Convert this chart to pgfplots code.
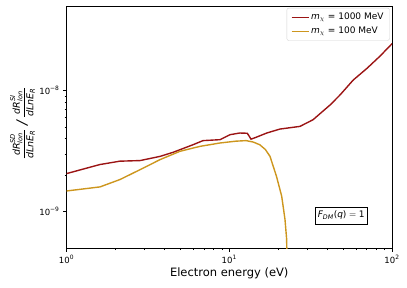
\documentclass[border=0pt]{standalone}
\usepackage{amsmath}
\usepackage{fontspec}
\setmainfont{DejaVu Sans}
\usepackage{pgfplots}
\pgfplotsset{compat=1.18}
\definecolor{cred}{RGB}{155,20,20}
\definecolor{cgold}{RGB}{205,150,30}
\begin{document}
\begin{tikzpicture}
\begin{axis}[
  scale only axis,
  width=325.5bp, height=242bp,
  xmode=log, ymode=log,
  xmin=1, xmax=100, ymin=5e-10, ymax=5e-8,
  axis line style={black, line width=0.8pt},
  tick align=outside, tick pos=left,
  major tick length=3.5bp, minor tick length=2bp,
  every tick/.style={black, line width=0.6pt},
  xtick={1,10,100},
  xticklabels={10\textsuperscript{0},10\textsuperscript{1},10\textsuperscript{2}},
  ytick={1e-9,1e-8},
  yticklabels={10\textsuperscript{−9},10\textsuperscript{−8}},
  ticklabel style={font=\fontsize{8.5bp}{10bp}\selectfont},
  xlabel={Electron energy (eV)},
  xlabel style={font=\fontsize{11.5bp}{13bp}\selectfont, yshift=2bp},
  ylabel={$\dfrac{\textit{dR}^{\textit{SD}}_{\textit{Ion}}}{\textit{dLnE}_{\textit{R}}}\ \textrm{\fontsize{14bp}{14bp}\selectfont\itshape /}\ \dfrac{\textit{dR}^{\textit{SI}}_{\textit{Ion}}}{\textit{dLnE}_{\textit{R}}}$},
  every axis y label/.style={at={(axis description cs:-0.135,0.515)}, rotate=90, anchor=center, font=\fontsize{9.5bp}{11bp}\selectfont},
  legend style={at={(rel axis cs:0.993,0.992)}, anchor=north east, draw=gray!35, rounded corners=2bp, font=\fontsize{9bp}{11bp}\selectfont, row sep=2bp, inner xsep=4bp, inner ysep=3bp},
  legend image code/.code={\draw[#1, line width=1.4pt, sharp corners] (0bp,0bp) -- (17bp,0bp);},
  legend cell align=left,
  clip=true,
]
\addplot[cred, line width=1.4pt] coordinates {
(1,2.06e-9) (1.607,2.45e-9) (2.13,2.61e-9) (2.83,2.64e-9) (3.76,2.86e-9) (4.52,3.09e-9)
(5.99,3.57e-9) (6.90,3.86e-9) (8.78,3.93e-9) (10.1,4.32e-9) (11.6,4.46e-9) (12.9,4.44e-9)
(13.2,4.24e-9) (13.6,3.97e-9) (14.4,4.08e-9) (17.0,4.46e-9) (20.5,4.81e-9) (27.2,5.06e-9)
(32.7,5.74e-9) (41.7,7.62e-9) (48.0,9.22e-9) (57.7,1.22e-8) (70.3,1.53e-8) (84.5,1.93e-8) (100,2.44e-8)
};
\addlegendentry{$\textit{m}_{\chi}$ = 1000 MeV}
\addplot[cgold, line width=1.4pt] coordinates {
(1,1.48e-9) (1.607,1.60e-9) (2.13,1.84e-9) (2.83,2.22e-9) (3.76,2.69e-9) (4.98,3.15e-9)
(6.61,3.46e-9) (8.78,3.69e-9) (11.0,3.82e-9) (12.7,3.86e-9) (14.0,3.76e-9) (15.4,3.57e-9)
(16.7,3.25e-9) (17.8,2.86e-9) (19.5,1.96e-9) (21.0,1.34e-9) (22.0,8.63e-10) (22.5,6.0e-10) (22.8,3.0e-10)
};
\addlegendentry{$\textit{m}_{\chi}$ = 100 MeV}
\node[draw=black, fill=white, inner xsep=3bp, inner ysep=4bp, font=\fontsize{9bp}{11bp}\selectfont] at (axis cs:48.7,9.3e-10) {$\textit{F}_{\textit{DM}}\textrm{(}\textit{q}\textrm{)} = \textrm{1}$};
\end{axis}
\path[use as bounding box] (-66.5bp,-40bp) rectangle (340.5bp,248bp);
\end{tikzpicture}
\end{document}
